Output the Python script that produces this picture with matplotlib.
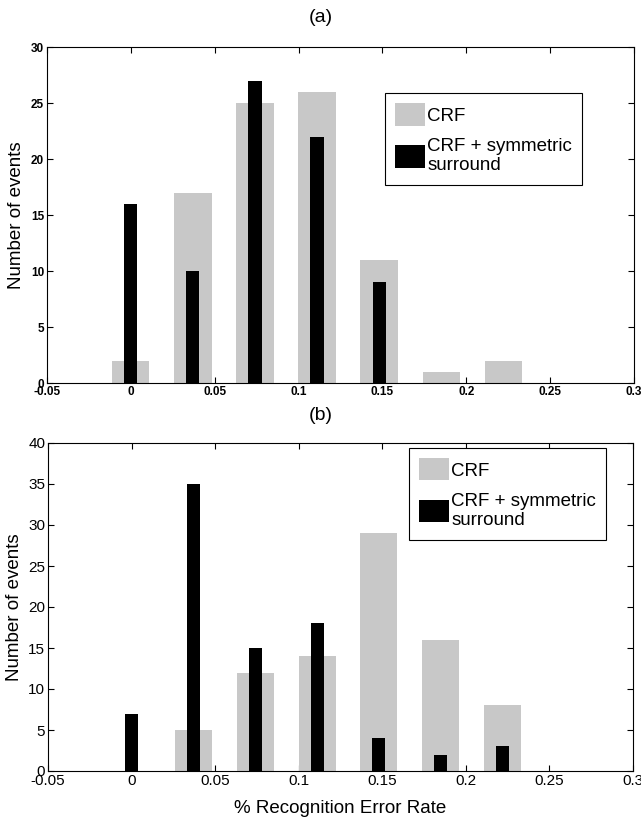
import matplotlib
matplotlib.use('Agg')
import numpy as np
import matplotlib.pyplot as plt

plt.rcParams['font.family'] = ['Liberation Sans', 'DejaVu Sans']

# bin centres (error rate) shared by both panels
bin_centers = [0.0, 0.037, 0.074, 0.111, 0.148, 0.185, 0.222]

# panel (a)
crf_a = [2, 17, 25, 26, 11, 1, 2]
sym_a = [16, 10, 27, 22, 9, 0, 0]

# panel (b)
crf_b = [0, 5, 12, 14, 29, 16, 8]
sym_b = [7, 35, 15, 18, 4, 2, 3]

labels = ['CRF', 'CRF + symmetric\nsurround']
gray = '#c8c8c8'

fig = plt.figure(figsize=(6.41, 8.26), dpi=100)
# axes positions in figure fraction (left, bottom, width, height)
ax1 = fig.add_axes([47/641, 1 - 383/826, 587/641, 336/826])
ax2 = fig.add_axes([48/641, 1 - 771/826, 585/641, 328/826])


def draw(ax, crf, sym, ymax, tick_fs, tick_bold, legend_box):
    ax.bar(bin_centers, crf, width=0.0222, color=gray, label=labels[0], zorder=2)
    ax.bar(bin_centers, sym, width=0.0078, color='black', label=labels[1], zorder=3)
    ax.set_xlim(-0.05, 0.3)
    ax.set_ylim(0, ymax)
    ax.set_xticks(np.arange(-0.05, 0.301, 0.05))
    ax.set_xticklabels(['-0.05', '0', '0.05', '0.1', '0.15', '0.2', '0.25', '0.3'])
    ax.set_yticks(np.arange(0, ymax + 1, 5))
    ax.tick_params(direction='in', top=True, right=True, length=4, width=0.8,
                   labelsize=tick_fs, pad=2)
    for lab in ax.get_xticklabels() + ax.get_yticklabels():
        lab.set_fontweight('bold' if tick_bold else 'normal')
    for sp in ax.spines.values():
        sp.set_linewidth(0.8)
    ax.set_ylabel('Number of events', fontsize=13.5, labelpad=4)
    leg = ax.legend(loc='upper left', bbox_to_anchor=legend_box, fontsize=13.5,
                    fancybox=False, edgecolor='black', framealpha=1,
                    handlelength=1.6, handleheight=1.45, borderpad=0.55,
                    labelspacing=0.65, handletextpad=0.1, borderaxespad=0)
    leg.get_frame().set_linewidth(0.8)


draw(ax1, crf_a, sym_a, 30, 8.5, True, (0.576, 0.863))
draw(ax2, crf_b, sym_b, 40, 11, False, (0.617, 0.985))

fig.text(0.5, 1 - 18/826, '(a)', ha='center', va='center', fontsize=14)
fig.text(0.5, 1 - 415/826, '(b)', ha='center', va='center', fontsize=14)
ax2.set_xlabel('% Recognition Error Rate', fontsize=13.5, labelpad=9)

fig.savefig('out.png', dpi=100)
